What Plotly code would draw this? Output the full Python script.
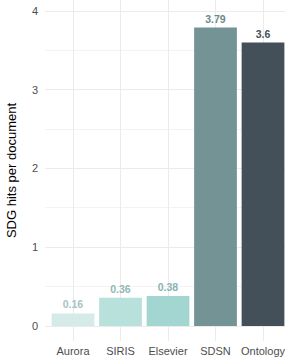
import plotly.graph_objects as go

categories = ["Aurora", "SIRIS", "Elsevier", "SDSN", "Ontology"]
values = [0.16, 0.36, 0.38, 3.79, 3.6]
labels = ["0.16", "0.36", "0.38", "3.79", "3.6"]
bar_colors = ["#d4ebe8", "#b9e1dc", "#a3d6d1", "#739395", "#434f59"]
label_colors = ["#a9c2bf", "#8fb9b4", "#86b5b0", "#6a8a8c", "#434f59"]

fig = go.Figure(go.Bar(
    x=list(range(len(categories))), y=values,
    text=labels, textposition="outside",
    textfont=dict(color=label_colors, size=10.5, family="Liberation Sans", weight="bold"),
    marker=dict(color=bar_colors, line=dict(width=0)),
    width=0.9, cliponaxis=False,
))

fig.update_layout(
    width=285, height=362,
    margin=dict(l=45, r=0, t=0, b=21),
    plot_bgcolor="white", paper_bgcolor="white",
    showlegend=False,
    font=dict(family="Liberation Sans", color="#4d4d4d", size=11),
    uniformtext=dict(minsize=8, mode="show"),
)
fig.update_xaxes(
    tickmode="array", tickvals=list(range(len(categories))), ticktext=categories,
    range=[-0.59, 4.463], showgrid=True, gridcolor="#ebebeb", gridwidth=1.2,
    zeroline=False, showline=False, ticks="", ticklabelstandoff=2,
    ticklabeloverflow="allow",
    tickfont=dict(size=11, color="#4d4d4d"),
)
fig.update_yaxes(
    range=[-0.19, 4.14], tickvals=[0, 1, 2, 3, 4],
    showgrid=True, gridcolor="#ebebeb", gridwidth=1.2,
    minor=dict(dtick=0.5, showgrid=True, gridcolor="#f3f3f3", gridwidth=0.6),
    zeroline=False, showline=False, ticks="", ticklabelstandoff=6,
    ticklabeloverflow="allow",
    tickfont=dict(size=11, color="#4d4d4d"),
    title=dict(text="SDG hits per document", font=dict(size=13, color="black"), standoff=12),
)

fig.write_html(
    "out.html",
    config={"displayModeBar": False},
    post_script="document.body.style.margin='0';document.documentElement.style.overflow='hidden';",
)
